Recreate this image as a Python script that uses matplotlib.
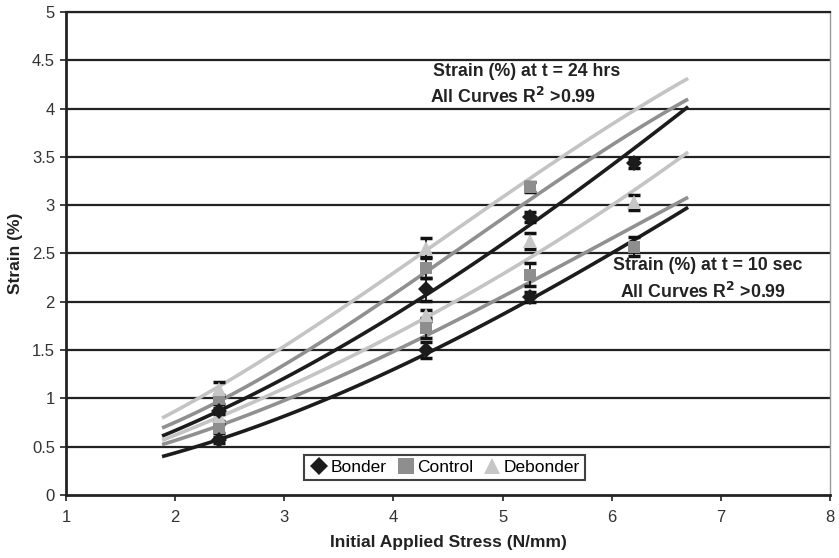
import numpy as np
import matplotlib
matplotlib.use("Agg")
import matplotlib.pyplot as plt
from matplotlib.lines import Line2D

plt.rcParams['font.family'] = ['Liberation Sans', 'DejaVu Sans']

# ---- measured points ----
x_stress = [2.4, 4.3, 5.25, 6.2]

bonder_10s = [0.57, 1.50, 2.05, np.nan]
bonder_10s_err = [0.03, 0.08, 0.05, 0.0]
bonder_24h = [0.87, 2.13, 2.88, 3.44]
bonder_24h_err = [0.03, 0.12, 0.05, 0.05]

control_10s = [0.69, 1.73, 2.28, 2.57]
control_10s_err = [0.05, 0.10, 0.12, 0.10]
control_24h = [0.99, 2.35, 3.19, np.nan]
control_24h_err = [0.05, 0.10, 0.05, 0.0]

debonder_10s = [0.82, 1.86, 2.63, 3.03]
debonder_10s_err = [0.05, 0.06, 0.08, 0.08]
debonder_24h = [1.10, 2.56, np.nan, np.nan]
debonder_24h_err = [0.07, 0.10, 0.0, 0.0]

# ---- fitted trend curves ----
curve_x = [1.88, 2.4, 3.0, 3.5, 4.3, 5.25, 6.0, 6.7]
fit_bonder_10s = [0.40, 0.57, 0.82, 1.04, 1.47, 2.02, 2.50, 2.98]
fit_control_10s = [0.52, 0.72, 0.98, 1.22, 1.65, 2.20, 2.66, 3.08]
fit_debonder_10s = [0.57, 0.80, 1.10, 1.38, 1.84, 2.45, 3.00, 3.55]
fit_bonder_24h = [0.61, 0.87, 1.21, 1.52, 2.07, 2.80, 3.41, 4.02]
fit_control_24h = [0.69, 0.98, 1.35, 1.68, 2.33, 3.05, 3.62, 4.10]
fit_debonder_24h = [0.80, 1.12, 1.54, 1.90, 2.55, 3.28, 3.82, 4.32]

x_ticks = [1, 2, 3, 4, 5, 6, 7, 8]
y_ticks = [0, 0.5, 1, 1.5, 2, 2.5, 3, 3.5, 4, 4.5, 5]
y_tick_labels = ['0', '0.5', '1', '1.5', '2', '2.5', '3', '3.5', '4', '4.5', '5']

C_B = '#1c1c1c'
C_C = '#8e8e8e'
C_D = '#c6c6c6'
LC_B = '#1c1c1c'
LC_C = '#909090'
LC_D = '#c4c4c4'

fig = plt.figure(figsize=(8.39, 5.58), dpi=100)
ax = fig.add_axes([66/839, 1-495/558, (830-66)/839, (495-12)/558])

for yv in y_ticks[1:]:
    ax.axhline(yv, color='#222222', lw=1.6, zorder=1)

# smooth rendering of the read curve points
def smooth(xs, ys):
    c = np.polyfit(xs, ys, 3)
    xx = np.linspace(xs[0], xs[-1], 120)
    return xx, np.polyval(c, xx)

lw = 2.6
for fx, col in [(fit_debonder_24h, LC_D), (fit_control_24h, LC_C), (fit_bonder_24h, LC_B),
                (fit_debonder_10s, LC_D), (fit_control_10s, LC_C), (fit_bonder_10s, LC_B)]:
    xx, yy = smooth(curve_x, fx)
    ax.plot(xx, yy, color=col, lw=lw, solid_capstyle='butt', zorder=2)

def pts(y, e, marker, color, ms):
    ax.errorbar(x_stress, y, yerr=e, fmt='none', ecolor='#111111', elinewidth=1.3,
                capsize=4, capthick=2.5, zorder=3)
    ax.plot(x_stress, y, linestyle='none', marker=marker, color=color, ms=ms,
            markeredgewidth=0, zorder=4)

pts(control_10s, control_10s_err, 's', C_C, 9)
pts(control_24h, control_24h_err, 's', C_C, 9)
pts(debonder_10s, debonder_10s_err, '^', C_D, 10)
pts(debonder_24h, debonder_24h_err, '^', C_D, 10)
pts(bonder_10s, bonder_10s_err, 'D', C_B, 8)
pts(bonder_24h, bonder_24h_err, 'D', C_B, 8)

ax.set_xlim(1, 8)
ax.set_ylim(0, 5)
ax.set_xticks(x_ticks)
ax.set_yticks(y_ticks)
ax.set_yticklabels(y_tick_labels)
ax.tick_params(axis='both', direction='out', length=4, width=1.2, colors='#222222',
               labelsize=12, labelcolor='#333333')
ax.tick_params(axis='x', pad=7)
ax.tick_params(axis='y', pad=4)
for s in ['left', 'bottom']:
    ax.spines[s].set_color('#222222')
    ax.spines[s].set_linewidth(2)
ax.spines['top'].set_color('#222222')
ax.spines['top'].set_linewidth(1.6)
ax.spines['right'].set_color('#999999')
ax.spines['right'].set_linewidth(1)

ax.set_xlabel('Initial Applied Stress (N/mm)', fontsize=12.5, fontweight='bold',
              color='#222222')
ax.xaxis.set_label_coords((448-66)/764, (495-535)/483)
ax.set_ylabel('Strain (%)', fontsize=12.5, fontweight='bold', color='#222222')
ax.yaxis.set_label_coords((23-66)/764, 0.5)

tk = dict(fontsize=12.8, fontweight='bold', color='#222222', zorder=5)
ax.text(5.22, 4.38, 'Strain (%) at t = 24 hrs', ha='center', va='center', **tk)
ax.text(5.10, 4.12, 'All Curves R$^\\mathbf{2}$ >0.99', ha='center', va='center', **tk)
ax.text(6.88, 2.38, 'Strain (%) at t = 10 sec', ha='center', va='center', **tk)
ax.text(6.84, 2.10, 'All Curves R$^\\mathbf{2}$ >0.99', ha='center', va='center', **tk)

handles = [Line2D([], [], linestyle='none', marker='D', color=C_B, ms=9, markeredgewidth=0),
           Line2D([], [], linestyle='none', marker='s', color=C_C, ms=11, markeredgewidth=0),
           Line2D([], [], linestyle='none', marker='^', color=C_D, ms=11, markeredgewidth=0)]
leg = ax.legend(handles, ['Bonder', 'Control', 'Debonder'], loc='center',
                bbox_to_anchor=(0.495, 0.057), ncol=3, fontsize=12.5, frameon=True,
                fancybox=False, edgecolor='#111111', handletextpad=0.05,
                columnspacing=0.5, handlelength=1.2, borderpad=0.3)
leg.get_frame().set_linewidth(1.5)
leg.set_zorder(6)

fig.savefig('out.png', dpi=100)
